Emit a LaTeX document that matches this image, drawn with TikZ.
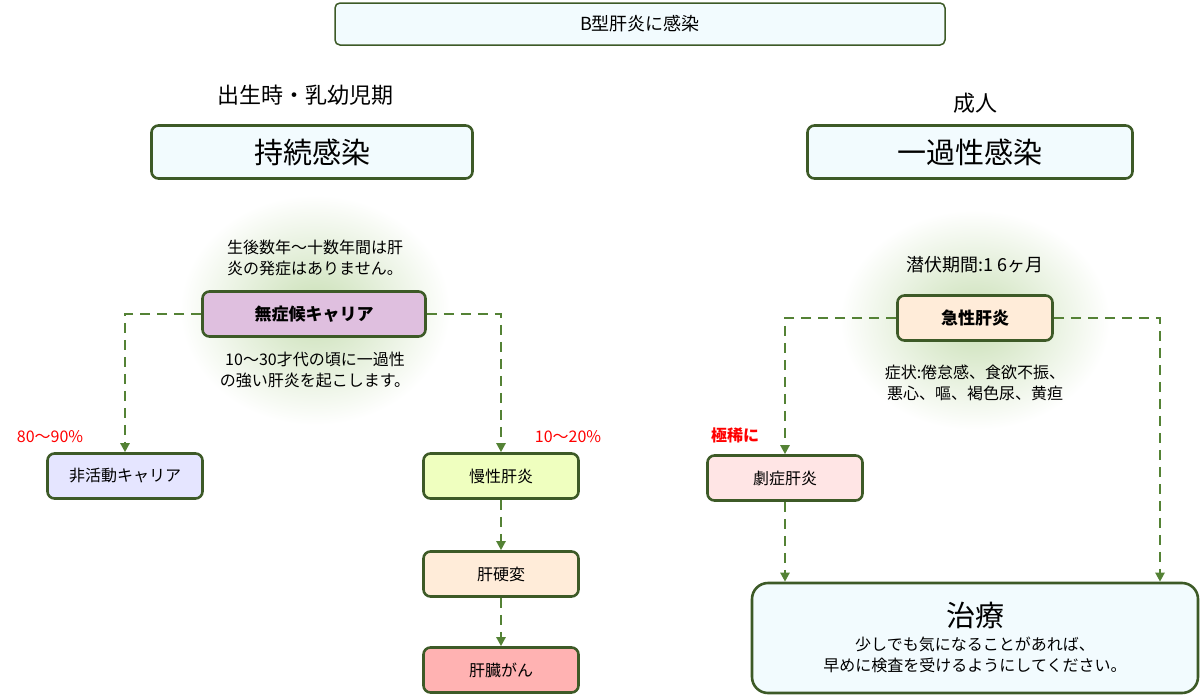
\documentclass[tikz,border=0pt]{standalone}
\usepackage{fontspec}
\setmainfont{Noto Sans CJK JP}
\usetikzlibrary{arrows.meta}
\definecolor{rim}{HTML}{3D5A27}
\definecolor{flow}{HTML}{548235}
\definecolor{glow}{HTML}{C9DFB5}
\begin{document}
\begin{tikzpicture}[x=1pt, y=-1pt,
  box/.style={draw=rim, line width=2.6pt, rounded corners=7pt, align=center, inner sep=0pt},
  stage/.style={box, minimum width=155, minimum height=45, font=\fontsize{16}{19}\selectfont},
  note/.style={align=center, font=\fontsize{16}{21}\selectfont},
  rate/.style={text=red, font=\fontsize{16}{19}\selectfont},
  flowline/.style={draw=flow, line width=2.6pt, dash pattern=on 10pt off 7pt, -{Triangle[length=9pt,width=9pt]}}]
\useasboundingbox (0,0) rectangle (1200,696);

% Kopf
\node[box, fill=cyan!5, line width=1.5pt, rounded corners=5pt, minimum width=610, minimum height=42, font=\fontsize{18}{22}\selectfont] (infekt) at (640,24) {B型肝炎に感染};

% Linke Seite
\node[font=\fontsize{22}{26}\selectfont] (kind) at (305,95) {出生時・乳幼児期};
\node[box, fill=cyan!5, minimum width=321, minimum height=53, font=\fontsize{29}{34}\selectfont] (chron) at (312,152) {持続感染};
\shade[inner color=glow, outer color=white] (315,310) ellipse (135 and 115);
\node[note] (vorher) at (315,258) {生後数年〜十数年間は肝\\炎の発症はありません。};
\node[stage, fill=violet!25, minimum width=223, font=\bfseries\fontsize{17}{20}\selectfont] (traeger) at (314,314) {無症候キャリア};
\node[note] (nachher) at (315,370) {10〜30才代の頃に一過性\\の強い肝炎を起こします。};
\node[stage, fill=blue!10] (inaktiv) at (125,476) {非活動キャリア};
\node[stage, fill=lime!25] (chronhep) at (501,476) {慢性肝炎};
\node[stage, fill=orange!15] (zirrhose) at (501,574) {肝硬変};
\node[stage, fill=red!30] (krebs) at (501,670) {肝臓がん};
\node[rate] (anteil1) at (50,437) {80〜90\%};
\node[rate] (anteil2) at (568,437) {10〜20\%};

% Rechte Seite
\node[font=\fontsize{22}{26}\selectfont] (adult) at (975,103) {成人};
\node[box, fill=cyan!5, minimum width=325, minimum height=53, font=\fontsize{29}{34}\selectfont] (transient) at (970,152) {一過性感染};
\shade[inner color=glow, outer color=white] (975,320) ellipse (135 and 110);
\node[note, font=\fontsize{18}{22}\selectfont] (latenz) at (975,265) {潜伏期間:1~6ヶ月};
\node[stage, fill=orange!15, font=\bfseries\fontsize{17}{20}\selectfont] (akut) at (975,318) {急性肝炎};
\node[note] (symptom) at (975,383) {症状:倦怠感、食欲不振、\\悪心、嘔、褐色尿、黄疸};
\node[stage, fill=pink!40] (fulminant) at (785,478) {劇症肝炎};
\node[rate, font=\bfseries\fontsize{16}{19}\selectfont] (selten) at (735,435) {極稀に};
\node[box, fill=cyan!5, rounded corners=16pt, minimum width=446, minimum height=110] (therapie) at (975,638) {};
\node[font=\fontsize{29}{34}\selectfont] (therapietitel) at (975,615) {治療};
\node[note] (therapietext) at (975,655) {少しでも気になることがあれば、\\早めに検査を受けるようにしてください。};

% Verbindungen
\draw[flowline] (traeger.west) -| (inaktiv.north);
\draw[flowline] (traeger.east) -| (chronhep.north);
\draw[flowline] (chronhep) -- (zirrhose);
\draw[flowline] (zirrhose) -- (krebs);
\draw[flowline] (akut.west) -| (fulminant.north);
\draw[flowline] (akut.east) -| ([xshift=185pt]therapie.north);
\draw[flowline] (fulminant.south) -- (fulminant.south |- therapie.north);
\end{tikzpicture}
\end{document}
